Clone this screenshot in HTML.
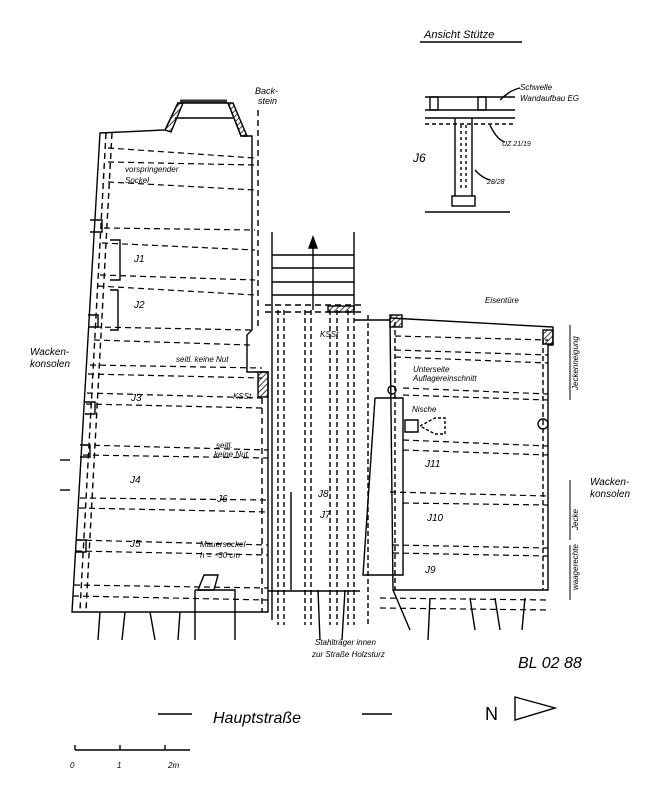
<!DOCTYPE html>
<html><head><meta charset="utf-8"><style>
html,body{margin:0;padding:0;background:#fff;}
svg{display:block;font-family:"Liberation Sans",sans-serif;font-style:italic;}
</style></head><body>
<svg width="650" height="800" viewBox="0 0 650 800" xmlns="http://www.w3.org/2000/svg">
<defs>
<pattern id="h" width="4" height="4" patternUnits="userSpaceOnUse" patternTransform="rotate(45)"><line x1="0" y1="0" x2="0" y2="4" stroke="#000" stroke-width="1.5"/></pattern>
</defs>
<g stroke="#000" fill="none" stroke-width="1.4">
<!-- title -->
<text x="424" y="38" font-size="11" fill="#000" stroke="none">Ansicht  Stütze</text>
<line x1="420" y1="42" x2="522" y2="42"/>
<!-- detail -->
<line x1="425" y1="97" x2="515" y2="97"/><line x1="425" y1="110" x2="515" y2="110"/>
<rect x="430" y="97" width="8" height="13"/><rect x="478" y="97" width="8" height="13"/>
<line x1="425" y1="118" x2="515" y2="118"/><line x1="425" y1="124" x2="515" y2="124" stroke-dasharray="4,3"/>
<line x1="455" y1="118" x2="455" y2="196"/><line x1="472" y1="118" x2="472" y2="196"/>
<line x1="461" y1="125" x2="461" y2="190" stroke-dasharray="3,3"/><line x1="466" y1="125" x2="466" y2="190" stroke-dasharray="3,3"/>
<rect x="452" y="196" width="23" height="10"/>
<line x1="425" y1="212" x2="510" y2="212"/>
<path d="M500 100 Q510 90 520 88"/><path d="M490 125 Q497 140 505 142"/><path d="M475 170 Q482 178 490 180"/>
<text x="520" y="90" font-size="8" fill="#000" stroke="none">Schwelle</text>
<text x="520" y="101" font-size="8" fill="#000" stroke="none">Wandaufbau EG</text>
<text x="502" y="146" font-size="7" fill="#000" stroke="none">UZ 21/19</text>
<text x="487" y="184" font-size="7" fill="#000" stroke="none">28/28</text>
<text x="413" y="162" font-size="12" fill="#000" stroke="none">J6</text>

<!-- left building outline -->
<path d="M100 133 L165 130 L178 103 L228 103 L241 136 L252 136 L252 330 L247 335 L247 372 L262 372 L268 372 L268 612 L72 612 Z"/>
<path d="M165 130 L178 103 L183 103 L171 132 Z M228 103 L241 136 L247 136 L233 103 Z" fill="url(#h)"/>
<line x1="180" y1="101" x2="227" y2="101" stroke-width="3" stroke="#333"/>
<line x1="175" y1="118" x2="233" y2="118"/>
<rect x="258" y="372" width="10" height="25" fill="url(#h)"/>
<line x1="106" y1="133" x2="80" y2="610" stroke-dasharray="6,4"/>
<line x1="112" y1="133" x2="86" y2="610" stroke-dasharray="6,4"/>
<line x1="258" y1="110" x2="258" y2="330" stroke-dasharray="6,4"/>
<line x1="262" y1="398" x2="262" y2="612" stroke-dasharray="6,4"/>
<g stroke-dasharray="6,4" stroke-width="1.2">
<line x1="108" y1="148" x2="255" y2="158"/><line x1="108" y1="162" x2="255" y2="165"/>
<line x1="108" y1="182" x2="255" y2="190"/><line x1="104" y1="228" x2="255" y2="230"/>
<line x1="102" y1="243" x2="255" y2="250"/><line x1="100" y1="275" x2="255" y2="280"/>
<line x1="98" y1="286" x2="255" y2="295"/><line x1="95" y1="327" x2="252" y2="330"/>
<line x1="94" y1="340" x2="250" y2="345"/><line x1="90" y1="365" x2="262" y2="368"/>
<line x1="88" y1="374" x2="262" y2="378"/><line x1="87" y1="393" x2="262" y2="398"/>
<line x1="86" y1="404" x2="262" y2="408"/><line x1="84" y1="445" x2="268" y2="450"/>
<line x1="83" y1="455" x2="268" y2="458"/><line x1="80" y1="498" x2="268" y2="500"/>
<line x1="79" y1="508" x2="268" y2="512"/><line x1="76" y1="540" x2="268" y2="545"/>
<line x1="76" y1="551" x2="268" y2="555"/><line x1="74" y1="585" x2="268" y2="588"/>
<line x1="73" y1="596" x2="268" y2="600"/>
</g>
<path d="M90 220 h12 v12 h-12 M88 315 h10 v12 h-10 M85 402 h10 v12 h-10 M80 445 h10 v12 h-10 M76 540 h10 v12 h-10"/>
<path d="M110 240 h10 v40 h-10 M110 290 h8 v40 h-8"/>
<line x1="70" y1="490" x2="60" y2="490"/><line x1="70" y1="460" x2="60" y2="460"/>
<!-- bottom stubs left -->
<path d="M100 612 L98 640 M125 612 L122 640 M150 612 L155 640 M180 612 L178 640"/>
<path d="M195 590 L235 590 L235 640 M195 590 L195 640"/>
<path d="M198 590 L204 575 L218 575 L214 590 Z"/>

<!-- middle stair -->
<line x1="272" y1="232" x2="272" y2="620"/><line x1="354" y1="232" x2="354" y2="310"/>
<line x1="272" y1="255" x2="354" y2="255"/><line x1="272" y1="268" x2="354" y2="268"/><line x1="272" y1="282" x2="354" y2="282"/><line x1="272" y1="295" x2="354" y2="295"/>
<line x1="313" y1="310" x2="313" y2="240"/><path d="M309 248 L313 237 L317 248 Z" fill="#000"/>
<line x1="265" y1="305" x2="362" y2="305" stroke-dasharray="6,4"/><line x1="265" y1="312" x2="362" y2="312" stroke-dasharray="6,4"/>
<rect x="328" y="306" width="26" height="6" fill="url(#h)"/>
<line x1="354" y1="320" x2="390" y2="320"/>
<g stroke-dasharray="5,3">
<line x1="278" y1="310" x2="278" y2="625"/><line x1="284" y1="310" x2="284" y2="625"/>
<line x1="305" y1="310" x2="305" y2="625"/><line x1="311" y1="310" x2="311" y2="625"/>
<line x1="330" y1="310" x2="330" y2="625"/><line x1="337" y1="310" x2="337" y2="625"/>
<line x1="348" y1="310" x2="348" y2="625"/><line x1="354" y1="310" x2="354" y2="625"/>
<line x1="368" y1="315" x2="368" y2="625"/>
</g>
<line x1="268" y1="591" x2="360" y2="591"/>
<path d="M291 492 L291 590 M318 590 L320 640 M345 590 L342 640"/>

<!-- right building -->
<path d="M390 318 L553 327 L553 345 L548 345 L548 590 L393 590 L390 318"/>
<rect x="390" y="315" width="12" height="12" fill="url(#h)"/>
<rect x="543" y="330" width="10" height="14" fill="url(#h)"/>
<path d="M375 398 L403 398 L403 575 L363 575 L375 398"/>
<line x1="395" y1="322" x2="395" y2="590" stroke-dasharray="5,3"/>
<line x1="543" y1="340" x2="543" y2="590" stroke-dasharray="5,3"/>
<g stroke-dasharray="6,4" stroke-width="1.2">
<line x1="395" y1="336" x2="548" y2="340"/><line x1="395" y1="350" x2="548" y2="355"/>
<line x1="395" y1="357" x2="548" y2="363"/><line x1="403" y1="388" x2="548" y2="394"/>
<line x1="403" y1="395" x2="548" y2="400"/><line x1="403" y1="440" x2="548" y2="446"/>
<line x1="403" y1="450" x2="548" y2="455"/><line x1="390" y1="492" x2="548" y2="496"/>
<line x1="403" y1="503" x2="548" y2="505"/><line x1="393" y1="545" x2="548" y2="548"/>
<line x1="393" y1="553" x2="548" y2="556"/><line x1="380" y1="598" x2="548" y2="600"/>
<line x1="380" y1="608" x2="548" y2="610"/>
</g>
<path d="M405 420 L418 420 L418 432 L405 432 Z"/>
<path d="M420 426 L435 418 L445 418 L445 434 L435 434 Z" stroke-dasharray="3,2"/>
<circle cx="543" cy="424" r="5"/><circle cx="392" cy="390" r="4"/>
<path d="M393 590 L410 630 M430 598 L428 640 M470 598 L475 630 M495 598 L500 630 M525 598 L522 630"/>

<!-- labels -->
<g fill="#000" stroke="none" font-size="8">
<text x="255" y="94" font-size="9">Back-</text><text x="258" y="104" font-size="9">stein</text>
<text x="125" y="172">vorspringender</text><text x="125" y="183">Sockel</text>
<text x="134" y="262" font-size="10">J1</text><text x="134" y="308" font-size="10">J2</text>
<text x="30" y="355" font-size="10">Wacken-</text><text x="30" y="367" font-size="10">konsolen</text>
<text x="176" y="362">seitl. keine Nut</text>
<text x="131" y="401" font-size="10">J3</text><text x="233" y="399">KSSt</text>
<text x="216" y="448">seitl.</text><text x="214" y="457">keine Nut</text>
<text x="130" y="483" font-size="10">J4</text><text x="217" y="502" font-size="10">J6</text>
<text x="318" y="497" font-size="10">J8</text><text x="320" y="518" font-size="10">J7</text>
<text x="130" y="547" font-size="10">J5</text>
<text x="200" y="547">Mauersockel</text><text x="200" y="558">h = ~30 cm</text>
<text x="320" y="337">KSSt</text>
<text x="485" y="303">Eisentüre</text>
<text x="413" y="372">Unterseite</text><text x="413" y="381">Auflagereinschnitt</text>
<text x="412" y="412">Nische</text>
<text x="425" y="467" font-size="10">J11</text><text x="427" y="521" font-size="10">J10</text><text x="425" y="573" font-size="10">J9</text>
<text x="590" y="485" font-size="10">Wacken-</text><text x="590" y="497" font-size="10">konsolen</text>
<text x="0" y="0" transform="translate(578,390) rotate(-90)">Jeckenneigung</text>
<text x="0" y="0" transform="translate(578,530) rotate(-90)">Jecke</text>
<text x="0" y="0" transform="translate(578,590) rotate(-90)">waagerechte</text>
<text x="315" y="645">Stahlträger innen</text><text x="312" y="657">zur Straße Holzsturz</text>
<text x="518" y="668" font-size="16">BL 02 88</text>
<text x="213" y="723" font-size="16">Hauptstraße</text>
<text x="485" y="720" font-size="18" font-style="normal">N</text>
<text x="70" y="768">0</text><text x="117" y="768">1</text><text x="168" y="768">2m</text>
</g>
<line x1="570" y1="400" x2="570" y2="325" stroke-width="1"/><line x1="570" y1="480" x2="570" y2="540" stroke-width="1"/><line x1="570" y1="545" x2="570" y2="600" stroke-width="1"/>
<line x1="158" y1="714" x2="192" y2="714"/><line x1="362" y1="714" x2="392" y2="714"/>
<path d="M515 697 L555 708 L515 720 Z"/>
<line x1="75" y1="750" x2="190" y2="750"/>
<line x1="75" y1="745" x2="75" y2="750"/><line x1="120" y1="745" x2="120" y2="750"/><line x1="165" y1="745" x2="165" y2="750"/>
</g>
</svg>
</body></html>
